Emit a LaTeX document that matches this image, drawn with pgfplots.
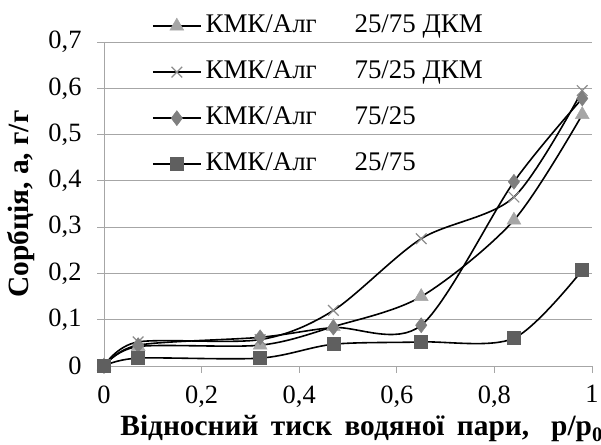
\documentclass[border=0pt]{standalone}
\usepackage{fontspec}
\setmainfont{Liberation Serif}
\usepackage{pgfplots}
\pgfplotsset{compat=1.18}
\definecolor{gridc}{HTML}{A6A6A6}
\definecolor{tric}{HTML}{A6A6A6}
\definecolor{crossc}{HTML}{8C8C8C}
\definecolor{diac}{HTML}{7F7F7F}
\definecolor{sqc}{HTML}{5F5F5F}
\begin{document}
\begin{tikzpicture}
\useasboundingbox (0,0) rectangle (601bp,445bp);
\begin{axis}[
  at={(104bp,79bp)}, anchor=south west,
  scale only axis, width=488bp, height=324bp,
  xmin=0, xmax=1, ymin=0, ymax=0.7,
  axis x line=bottom, axis y line=left,
  axis line style={gridc, line width=0.8bp, -},
  xtick={0,0.2,0.4,0.6,0.8,1},
  ytick={0,0.1,0.2,0.3,0.4,0.5,0.6,0.7},
  xticklabels={0,{0,2},{0,4},{0,6},{0,8},1},
  yticklabels={0,{0,1},{0,2},{0,3},{0,4},{0,5},{0,6},{0,7}},
  tick style={gridc, line width=0.8bp},
  tick align=outside, major tick length=7bp,
  ymajorgrids, grid style={gridc, line width=0.8bp},
  tick label style={font=\fontsize{26.5}{30}\selectfont},
  xticklabel style={yshift=-9bp},
  yticklabel style={xshift=-12bp},
  xlabel={\bfseries Відносний\hspace{0.42em}тиск\hspace{0.42em}водяної\hspace{0.42em}пари,\hspace{0.75em}p/p\textsubscript{0}},
  ylabel={\bfseries Сорбція, а, г/г},
  label style={font=\fontsize{29.5}{32}\selectfont},
  xlabel style={at={(0.528,-0.216)}, anchor=base},
  ylabel style={at={(-0.17,0.5)}, anchor=center},
  legend cell align=left,
  legend style={draw=none, fill=none, at={(0.098,1.085)}, anchor=north west,
    inner sep=0pt, row sep=23bp, column sep=4bp,
    nodes={inner sep=0pt, text height=18bp, text depth=5bp},
    font=\fontsize{27}{30}\selectfont},
  legend image code/.code={\draw[#1, mark repeat=2, mark phase=2] plot coordinates {(0bp,0bp) (24bp,0bp) (48bp,0bp)};},
  every axis plot/.append style={black, line width=1.6bp, smooth},
]
\addplot[mark=triangle*, mark size=8bp, mark options={draw=tric, fill=tric, line width=0.5bp}] coordinates {
(0,0)(0.07,0.042)(0.32,0.045)(0.47,0.085)(0.65,0.15)(0.84,0.315)(0.98,0.543)};
\addlegendentry{\makebox[149bp][l]{КМК/Алг}25/75 ДКМ}
\addplot[mark=x, mark size=7.5bp, mark options={draw=crossc, line width=1.2bp}] coordinates {
(0,0)(0.07,0.052)(0.32,0.057)(0.47,0.12)(0.65,0.275)(0.84,0.365)(0.98,0.595)};
\addlegendentry{\makebox[149bp][l]{КМК/Алг}75/25 ДКМ}
\addplot[mark=diamond*, mark size=7.5bp, mark options={draw=diac, fill=diac, line width=0.5bp}] coordinates {
(0,0)(0.07,0.045)(0.32,0.062)(0.47,0.083)(0.65,0.088)(0.84,0.398)(0.98,0.578)};
\addlegendentry{\makebox[149bp][l]{КМК/Алг}75/25}
\addplot[mark=square*, mark size=6.5bp, mark options={draw=sqc, fill=sqc, line width=0.5bp}] coordinates {
(0,0)(0.07,0.017)(0.32,0.017)(0.47,0.047)(0.65,0.052)(0.84,0.06)(0.98,0.207)};
\addlegendentry{\makebox[149bp][l]{КМК/Алг}25/75}
\end{axis}
\end{tikzpicture}
\end{document}
